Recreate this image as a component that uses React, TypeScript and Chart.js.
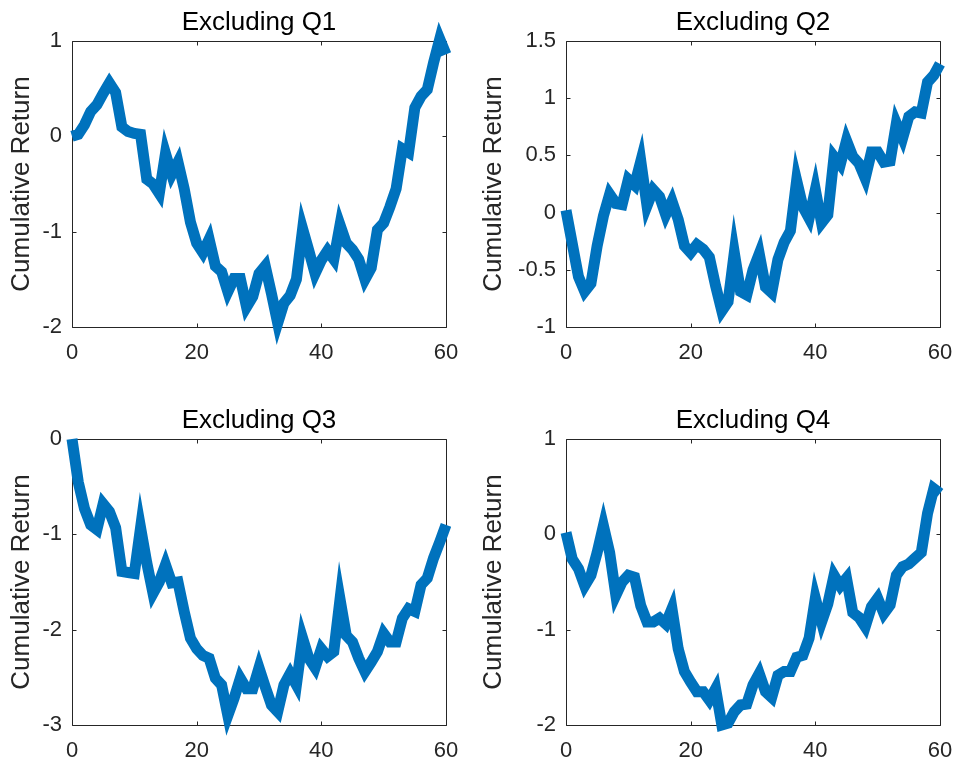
import React, { useEffect, useRef } from "react";
import { Chart, registerables } from "chart.js";

Chart.register(...registerables);

// ---- data ----
const xSteps = [
  0, 1, 2, 3, 4, 5, 6, 7, 8, 9, 10, 11, 12, 13, 14, 15, 16, 17, 18, 19, 20,
  21, 22, 23, 24, 25, 26, 27, 28, 29, 30, 31, 32, 33, 34, 35, 36, 37, 38, 39, 40,
  41, 42, 43, 44, 45, 46, 47, 48, 49, 50, 51, 52, 53, 54, 55, 56, 57, 58, 59, 60,
];

const excludingQ1 = [
  0.0, 0.02, 0.12, 0.26, 0.33, 0.45, 0.56, 0.46, 0.1, 0.05, 0.03,
  0.02, -0.45, -0.5, -0.6, -0.18, -0.4, -0.27, -0.55, -0.9, -1.12,
  -1.22, -1.08, -1.36, -1.42, -1.63, -1.49, -1.49, -1.79, -1.68, -1.44,
  -1.36, -1.65, -1.96, -1.75, -1.67, -1.5, -0.97, -1.2, -1.44, -1.3,
  -1.2, -1.29, -0.93, -1.12, -1.19, -1.29, -1.5, -1.38, -0.98, -0.91,
  -0.74, -0.55, -0.13, -0.17, 0.3, 0.42, 0.49, 0.77, 1.02, 0.86,
];

const excludingQ2 = [
  0.02, -0.27, -0.56, -0.69, -0.62, -0.29, -0.03, 0.16, 0.08, 0.07, 0.29,
  0.24, 0.45, 0.06, 0.2, 0.14, -0.02, 0.1, -0.06, -0.29, -0.35,
  -0.28, -0.32, -0.39, -0.64, -0.86, -0.78, -0.35, -0.69, -0.72, -0.5,
  -0.36, -0.65, -0.7, -0.41, -0.26, -0.16, 0.28, 0.05, -0.05, 0.2,
  -0.09, -0.02, 0.49, 0.42, 0.63, 0.49, 0.43, 0.3, 0.53, 0.53,
  0.44, 0.45, 0.78, 0.65, 0.84, 0.88, 0.87, 1.14, 1.2, 1.3,
];

const excludingQ3 = [
  0.0, -0.45, -0.73, -0.9, -0.95, -0.68, -0.76, -0.93, -1.39, -1.4, -1.41,
  -0.93, -1.3, -1.62, -1.5, -1.32, -1.51, -1.5, -1.81, -2.09, -2.2,
  -2.27, -2.3, -2.51, -2.58, -2.9, -2.72, -2.51, -2.62, -2.62, -2.4,
  -2.6, -2.79, -2.86, -2.58, -2.46, -2.58, -2.09, -2.3, -2.4, -2.2,
  -2.28, -2.23, -1.68, -2.06, -2.13, -2.3, -2.44, -2.34, -2.23, -2.04,
  -2.13, -2.13, -1.88, -1.78, -1.81, -1.53, -1.46, -1.25, -1.08, -0.9,
];

const excludingQ4 = [
  0.02, -0.26, -0.36, -0.54, -0.43, -0.19, 0.09, -0.19, -0.64, -0.5, -0.43,
  -0.45, -0.75, -0.92, -0.92, -0.88, -0.94, -0.78, -1.2, -1.44, -1.55,
  -1.65, -1.65, -1.74, -1.62, -2.0, -1.98, -1.86, -1.79, -1.78, -1.58,
  -1.46, -1.65, -1.71, -1.48, -1.44, -1.44, -1.29, -1.27, -1.09, -0.67,
  -0.92, -0.73, -0.43, -0.54, -0.46, -0.82, -0.87, -0.97, -0.76, -0.67,
  -0.83, -0.74, -0.43, -0.34, -0.31, -0.25, -0.19, 0.22, 0.48, 0.43,
];

const xTickValues = [0, 20, 40, 60];
const yTicksQ1 = [-2, -1, 0, 1];
const yTicksQ2 = [-1, -0.5, 0, 0.5, 1, 1.5];
const yTicksQ3 = [-3, -2, -1, 0];
const yTicksQ4 = [-2, -1, 0, 1];

const titles = ["Excluding Q1", "Excluding Q2", "Excluding Q3", "Excluding Q4"];
const yLabel = "Cumulative Return";

// ---- style ----
const FONT = '"Liberation Sans", Arial, Helvetica, sans-serif';
const LINE_COLOR = "#0072BD";
const AXIS_COLOR = "#262626";
const TITLE_SIZE = 26;

type Panel = {
  title: string;
  values: number[];
  yTicks: number[];
  left: number;
  top: number;
  yAxisWidth: number;
  xAxisHeight: number;
  titlePadTop: number;
  yTitlePad: number;
  padRight: number;
};

const panels: Panel[] = [
  { title: titles[0], values: excludingQ1, yTicks: yTicksQ1, left: 0, top: 0, yAxisWidth: 72, xAxisHeight: 56, titlePadTop: 7, yTitlePad: 6, padRight: 32 },
  { title: titles[1], values: excludingQ2, yTicks: yTicksQ2, left: 478, top: 0, yAxisWidth: 88, xAxisHeight: 56, titlePadTop: 7, yTitlePad: 0, padRight: 16 },
  { title: titles[2], values: excludingQ3, yTicks: yTicksQ3, left: 0, top: 383, yAxisWidth: 72, xAxisHeight: 41, titlePadTop: 22, yTitlePad: 6, padRight: 32 },
  { title: titles[3], values: excludingQ4, yTicks: yTicksQ4, left: 478, top: 383, yAxisWidth: 88, xAxisHeight: 41, titlePadTop: 22, yTitlePad: 0, padRight: 16 },
];

const boxPlugin = {
  id: "matlabBox",
  beforeDatasetsDraw(chart: any) {
    const { ctx, chartArea } = chart;
    const l = Math.round(chartArea.left) + 0.5;
    const r = Math.round(chartArea.right) + 0.5;
    const t = Math.round(chartArea.top) + 0.5;
    const b = Math.round(chartArea.bottom) + 0.5;
    ctx.save();
    ctx.strokeStyle = AXIS_COLOR;
    ctx.lineWidth = 1;
    ctx.beginPath();
    ctx.rect(l, t, r - l, b - t);
    const len = 4;
    const xs = chart.scales.x;
    xs.ticks.forEach((tk: any) => {
      const px = Math.round(xs.getPixelForValue(tk.value)) + 0.5;
      ctx.moveTo(px, b);
      ctx.lineTo(px, b - len);
      ctx.moveTo(px, t);
      ctx.lineTo(px, t + len);
    });
    const ys = chart.scales.y;
    ys.ticks.forEach((tk: any) => {
      const py = Math.round(ys.getPixelForValue(tk.value)) + 0.5;
      ctx.moveTo(l, py);
      ctx.lineTo(l + len, py);
      ctx.moveTo(r, py);
      ctx.lineTo(r - len, py);
    });
    ctx.stroke();
    ctx.restore();
  },
};

function SubPlot({ panel }: { panel: Panel }) {
  const ref = useRef<HTMLCanvasElement | null>(null);
  useEffect(() => {
    if (!ref.current) return;
    const yMin = panel.yTicks[0];
    const yMax = panel.yTicks[panel.yTicks.length - 1];
    const chart = new Chart(ref.current, {
      type: "line",
      data: {
        datasets: [
          {
            data: xSteps.map((x, i) => ({ x, y: panel.values[i] })),
            borderColor: LINE_COLOR,
            borderWidth: 11,
            borderJoinStyle: "miter",
            borderCapStyle: "butt",
            pointRadius: 0,
            pointHoverRadius: 0,
            fill: false,
            tension: 0,
            clip: false as any,
          },
        ],
      },
      options: {
        responsive: false,
        animation: false,
        devicePixelRatio: 1,
        events: [],
        layout: { padding: { left: 0, right: panel.padRight, top: 0, bottom: 0 } },
        plugins: {
          legend: { display: false },
          tooltip: { enabled: false },
          title: {
            display: true,
            text: panel.title,
            fullSize: false,
            color: "#000000",
            font: { family: FONT, size: TITLE_SIZE, weight: "normal", lineHeight: 1.2 },
            padding: { top: panel.titlePadTop, bottom: 41 - panel.titlePadTop - TITLE_SIZE * 1.2 + (panel.top > 0 ? 15 : 0) },
          },
        },
        scales: {
          x: {
            type: "linear",
            min: 0,
            max: 60,
            grid: { display: false, drawTicks: false },
            border: { display: false },
            ticks: {
              color: AXIS_COLOR,
              padding: 13,
              maxRotation: 0,
              autoSkip: false,
              font: { family: FONT, size: 22, lineHeight: 1.2 },
              callback: (v: any) => String(v),
            },
            afterBuildTicks: (s: any) => {
              s.ticks = xTickValues.map((v) => ({ value: v }));
            },
            afterFit: (s: any) => {
              s.height = panel.xAxisHeight;
              s.paddingLeft = 0;
              s.paddingRight = 0;
            },
          },
          y: {
            type: "linear",
            min: yMin,
            max: yMax,
            grid: { display: false, drawTicks: false },
            border: { display: false },
            ticks: {
              color: AXIS_COLOR,
              padding: 10,
              autoSkip: false,
              font: { family: FONT, size: 22, lineHeight: 1.2 },
              callback: (v: any) => String(v),
            },
            afterBuildTicks: (s: any) => {
              s.ticks = panel.yTicks.map((v) => ({ value: v }));
            },
            afterFit: (s: any) => {
              s.width = panel.yAxisWidth;
              s.paddingTop = 0;
              s.paddingBottom = 0;
            },
            title: {
              display: true,
              text: yLabel,
              color: AXIS_COLOR,
              font: { family: FONT, size: TITLE_SIZE, lineHeight: 1.2 },
              padding: { top: panel.yTitlePad, bottom: 0 },
            },
          },
        },
      },
      plugins: [boxPlugin],
    } as any);
    return () => chart.destroy();
  }, [panel]);

  return (
    <div style={{ position: "absolute", left: panel.left, top: panel.top, width: 478, height: 383 }}>
      <canvas ref={ref} width={478} height={383} style={{ display: "block", width: 478, height: 383 }} />
    </div>
  );
}

export default function App() {
  return (
    <div style={{ position: "absolute", left: 0, top: 0, width: 956, height: 766, background: "#ffffff", overflow: "hidden" }}>
      {panels.map((p, i) => (
        <SubPlot key={i} panel={p} />
      ))}
    </div>
  );
}
